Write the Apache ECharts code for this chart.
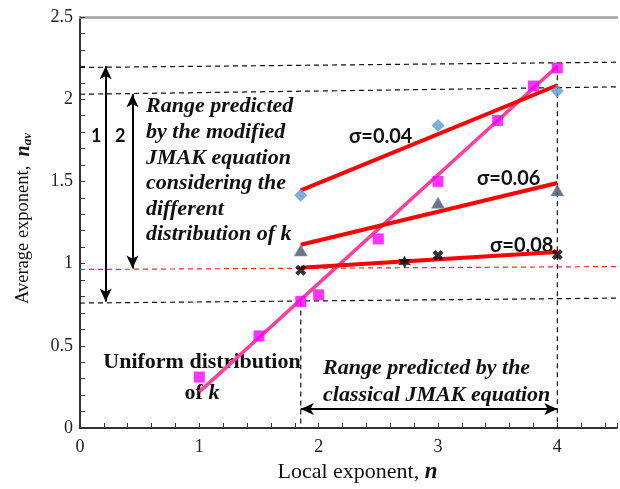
<!DOCTYPE html>
<html>
<head>
<meta charset="utf-8">
<script src="https://cdn.jsdelivr.net/npm/echarts@6/dist/echarts.min.js"></script>
<style>html,body{margin:0;padding:0;background:#fff}#c{width:620px;height:489px}</style>
</head>
<body>
<div id="c"></div>
<script>
// ---- data ----
const uniformX = [1, 1.5, 1.85, 2, 2.5, 3, 3.5, 3.8, 4];
const uniformY = [0.31, 0.56, 0.77, 0.81, 1.15, 1.5, 1.87, 2.08, 2.19];
const uniformFitX = [1, 4];
const uniformFitY = [0.22, 2.2];

const sigmaX = [1.85, 3, 4];
const sigma04Y = [1.415, 1.84, 2.05];
const sigma06Y = [1.08, 1.37, 1.445];
const sigma08X = [1.85, 2.72, 3, 4];
const sigma08Y = [0.96, 1.01, 1.05, 1.055];

const fitX = [1.85, 4];
const sigma04FitY = [1.445, 2.085];
const sigma06FitY = [1.115, 1.49];
const sigma08FitY = [0.975, 1.07];

// guide (dashed) lines: x pairs and y pairs
const guide22X = [0, 4.5], guide22Y = [2.193, 2.225];
const guide203X = [0, 4.5], guide203Y = [2.03, 2.075];
const guide097X = [0, 4.5], guide097Y = [0.964, 0.982];
const guide077X = [0, 4.5], guide077Y = [0.76, 0.79];
const vGuide185X = [1.85, 1.85], vGuide185Y = [0.77, 0];
const vGuide4X = [4.0, 4.0], vGuide4Y = [2.2, 0];

// arrows
const arrow1X = [0.215, 0.215], arrow1Y = [2.2, 0.77];
const arrow2X = [0.44, 0.44], arrow2Y = [2.03, 0.97];
const arrow3X = [1.85, 4.0], arrow3Y = [0.115, 0.115];

const xTickLabels = ['0', '1', '2', '3', '4'];
const yTickLabels = ['0', '0.5', '1', '1.5', '2', '2.5'];

// ---- helpers ----
const pairs = (xs, ys) => xs.map((x, i) => [x, ys[i]]);
const serif = 'Liberation Serif';

function starPath(n, ro, ri) {
  let d = '';
  for (let i = 0; i < n * 2; i++) {
    const r = i % 2 === 0 ? ro : ri;
    const a = Math.PI * i / n - Math.PI / 2;
    d += (i === 0 ? 'M' : 'L') + (10 + r * Math.cos(a)).toFixed(2) + ',' + (10 + r * Math.sin(a)).toFixed(2) + ' ';
  }
  return 'path://' + d + 'Z';
}
const xPath = 'path://M0,2.6 L2.6,0 L5,2.4 L7.4,0 L10,2.6 L7.6,5 L10,7.4 L7.4,10 L5,7.6 L2.6,10 L0,7.4 L2.4,5 Z';
const star = starPath(6, 10, 5);

function dashed(xs, ys, color) {
  return {
    type: 'line', data: pairs(xs, ys), symbol: 'none', silent: true, z: 1,
    lineStyle: { color: color, width: 1.2, type: [5, 4] }
  };
}
function arrow(xs, ys) {
  return [{ coord: [xs[0], ys[0]] }, { coord: [xs[1], ys[1]] }];
}

const chart = echarts.init(document.getElementById('c'), null, { renderer: 'canvas' });

const isMultiple = (v, step) => Math.abs(v / step - Math.round(v / step)) < 1e-6;

chart.setOption({
  animation: false,
  backgroundColor: '#fff',
  grid: { left: 80, top: 17, right: -4.5, bottom: 57 },
  xAxis: [{
    type: 'value', min: 0, max: 4.5, interval: 0.2,
    axisLine: { lineStyle: { color: '#333', width: 2 } },
    axisTick: { inside: true, length: 5, lineStyle: { color: '#333', width: 1 } },
    splitLine: { show: false },
    axisLabel: {
      margin: 10, color: '#222', fontFamily: serif, fontSize: 18,
      formatter: v => isMultiple(v, 1) ? xTickLabels[Math.round(v)] : ''
    },
    name: '{r|Local exponent, }{n|n}', nameLocation: 'middle', nameGap: 33,
    nameTextStyle: {
      padding: [0, 0, 0, 18],
      rich: {
        r: { fontFamily: serif, fontSize: 22, color: '#111' },
        n: { fontFamily: serif, fontSize: 23, fontStyle: 'italic', fontWeight: 'bold', color: '#111' }
      }
    }
  }, {
    type: 'value', position: 'top', min: 0, max: 4.5,
    axisLine: { lineStyle: { color: '#a0a0a0', width: 2.5 } },
    axisTick: { show: false }, axisLabel: { show: false }, splitLine: { show: false }
  }],
  yAxis: {
    type: 'value', min: 0, max: 2.5, interval: 0.1,
    axisLine: { show: true, lineStyle: { color: '#333', width: 2 } },
    axisTick: { show: true, inside: true, length: 5, lineStyle: { color: '#333', width: 1 } },
    splitLine: { show: false },
    axisLabel: {
      margin: 7, color: '#222', fontFamily: serif, fontSize: 18,
      formatter: v => isMultiple(v, 0.5) ? yTickLabels[Math.round(v / 0.5)] : ''
    },
    name: '{r|Average exponent,  }{n|n}{s|av}', nameLocation: 'middle', nameGap: 46, nameRotate: 90,
    nameTextStyle: {
      padding: [0, 0, 0, 8],
      rich: {
        r: { fontFamily: serif, fontSize: 18.5, color: '#111' },
        n: { fontFamily: serif, fontSize: 20, fontStyle: 'italic', fontWeight: 'bold', color: '#111' },
        s: { fontFamily: serif, fontSize: 13, fontStyle: 'italic', fontWeight: 'bold', color: '#111', padding: [8, 0, 0, 0] }
      }
    }
  },
  series: [
    dashed(guide22X, guide22Y, '#111'),
    dashed(guide203X, guide203Y, '#111'),
    dashed(guide097X, guide097Y, '#ff2a2a'),
    dashed(guide077X, guide077Y, '#111'),
    dashed(vGuide185X, vGuide185Y, '#111'),
    dashed(vGuide4X, vGuide4Y, '#111'),
    {
      type: 'line', data: [], silent: true,
      markLine: {
        silent: true, symbol: ['arrow', 'arrow'], symbolSize: [9, 13],
        label: { show: false },
        lineStyle: { color: '#000', width: 2, type: 'solid' },
        data: [arrow(arrow1X, arrow1Y), arrow(arrow2X, arrow2Y), arrow(arrow3X, arrow3Y)]
      }
    },
    { type: 'line', data: pairs(uniformFitX, uniformFitY), symbol: 'none', z: 3, lineStyle: { color: '#ff3d9a', width: 3.5 } },
    { type: 'line', data: pairs(fitX, sigma04FitY), symbol: 'none', z: 3, lineStyle: { color: '#ff0000', width: 4 } },
    { type: 'line', data: pairs(fitX, sigma06FitY), symbol: 'none', z: 3, lineStyle: { color: '#ff0000', width: 4 } },
    { type: 'line', data: pairs(fitX, sigma08FitY), symbol: 'none', z: 3, lineStyle: { color: '#ff0000', width: 4 } },
    { type: 'scatter', data: pairs(uniformX, uniformY), symbol: 'rect', symbolSize: 11, z: 5, itemStyle: { color: '#ff00ff' } },
    { type: 'scatter', data: pairs(sigmaX, sigma04Y), symbol: 'diamond', symbolSize: [13, 13], z: 5, itemStyle: { color: '#5b9bd5' } },
    { type: 'scatter', data: pairs(sigmaX, sigma06Y), symbol: 'triangle', symbolSize: [13, 11], z: 5, itemStyle: { color: '#44546a', borderColor: '#8a96a8', borderWidth: 0.8 } },
    {
      type: 'scatter', z: 5, itemStyle: { color: '#000' },
      data: pairs(sigma08X, sigma08Y).map((p, i) => i === 1
        ? { value: p, symbol: star, symbolSize: 13 }
        : { value: p, symbol: xPath, symbolSize: 11 })
    }
  ],
  graphic: [
    { type: 'text', left: 146, top: 94, silent: true,
      style: { text: 'Range predicted\nby the modified\nJMAK equation\nconsidering the\ndifferent\ndistribution of k',
        font: 'italic bold 22px "Liberation Serif"', lineHeight: 25.6, fill: '#111' } },
    { type: 'text', left: 323, top: 355, silent: true,
      style: { text: 'Range predicted by the\nclassical JMAK equation',
        font: 'italic bold 22px "Liberation Serif"', lineHeight: 27, fill: '#111' } },
    { type: 'text', x: 202, y: 347, silent: true,
      style: { text: '{a|Uniform distribution}\n{a|of }{k|k}', align: 'center', lineHeight: 31,
        rich: {
          a: { fontFamily: serif, fontWeight: 'bold', fontSize: 22, fill: '#111', lineHeight: 31 },
          k: { fontFamily: serif, fontWeight: 'bold', fontStyle: 'italic', fontSize: 22, fill: '#111', lineHeight: 31 }
        } } },
    { type: 'text', left: 349, top: 127, silent: true, style: { text: 'σ=0.04', font: 'bold 20px Lato', fill: '#111' } },
    { type: 'text', left: 477, top: 169, silent: true, style: { text: 'σ=0.06', font: 'bold 20px Lato', fill: '#111' } },
    { type: 'text', left: 490, top: 236, silent: true, style: { text: 'σ=0.08', font: 'bold 20px Lato', fill: '#111' } },
    { type: 'text', left: 91, top: 127, silent: true, style: { text: '1', font: 'bold 18px Lato', fill: '#111' } },
    { type: 'text', left: 115, top: 127, silent: true, style: { text: '2', font: 'bold 18px Lato', fill: '#111' } }
  ]
});
</script>
</body>
</html>
